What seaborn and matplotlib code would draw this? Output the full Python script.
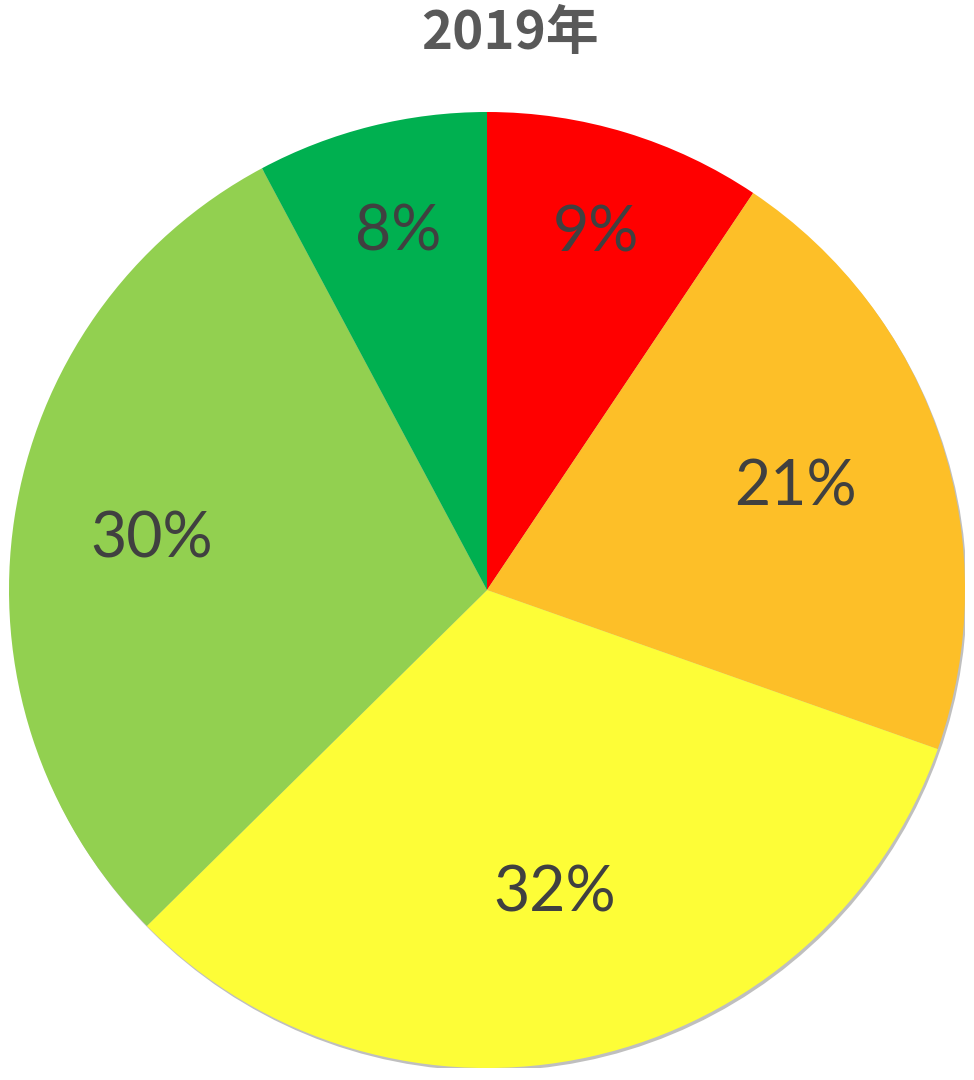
import numpy as np
import matplotlib
matplotlib.use("Agg")
import matplotlib.pyplot as plt
import seaborn as sns

# data (clockwise from 12 o'clock)
shares = [9.4, 21.0, 32.2, 29.6, 7.8]
labels = ["9%", "21%", "32%", "30%", "8%"]
colors = ["#FF0000", "#FDBF28", "#FDFD37", "#92D050", "#00B050"]
title = "2019年"

# label distance from centre, as a fraction of the radius (Excel "best fit")
label_dist = [0.78, 0.68, 0.65, 0.71, 0.77]

sns.set_theme(style="white")
plt.rcParams['font.family'] = ['Lato', 'DejaVu Sans']

fig = plt.figure(figsize=(9.74, 10.8), dpi=100)
cx, cy, r = 487, 590, 478
ax = fig.add_axes([(cx - r) / 974, (1080 - cy - r) / 1080, 2 * r / 974, 2 * r / 1080])

wedges, _ = ax.pie(shares, colors=colors, startangle=90, counterclock=False,
                   radius=1.0, wedgeprops=dict(linewidth=0))

# soft shadow around the rim
shadow = plt.Circle((0.004, -0.006), 1.0, color="#bfbfbf", zorder=0, lw=0)
ax.add_patch(shadow)

for w, lab, d in zip(wedges, labels, label_dist):
    ang = np.deg2rad((w.theta1 + w.theta2) / 2)
    ax.text(d * np.cos(ang), d * np.sin(ang), lab, ha="center", va="center",
            fontsize=45, color="#404040")

ax.set_xlim(-1.0, 1.0)
ax.set_ylim(-1.0, 1.0)
ax.set_aspect("equal")
ax.axis("off")

fig.text(510 / 974, 1 - 34 / 1080, title, ha="center", va="center",
         fontsize=38, fontweight="bold", color="#595959",
         family=['Noto Sans CJK SC', 'DejaVu Sans'])

fig.savefig("out.png", dpi=100, facecolor="white")
